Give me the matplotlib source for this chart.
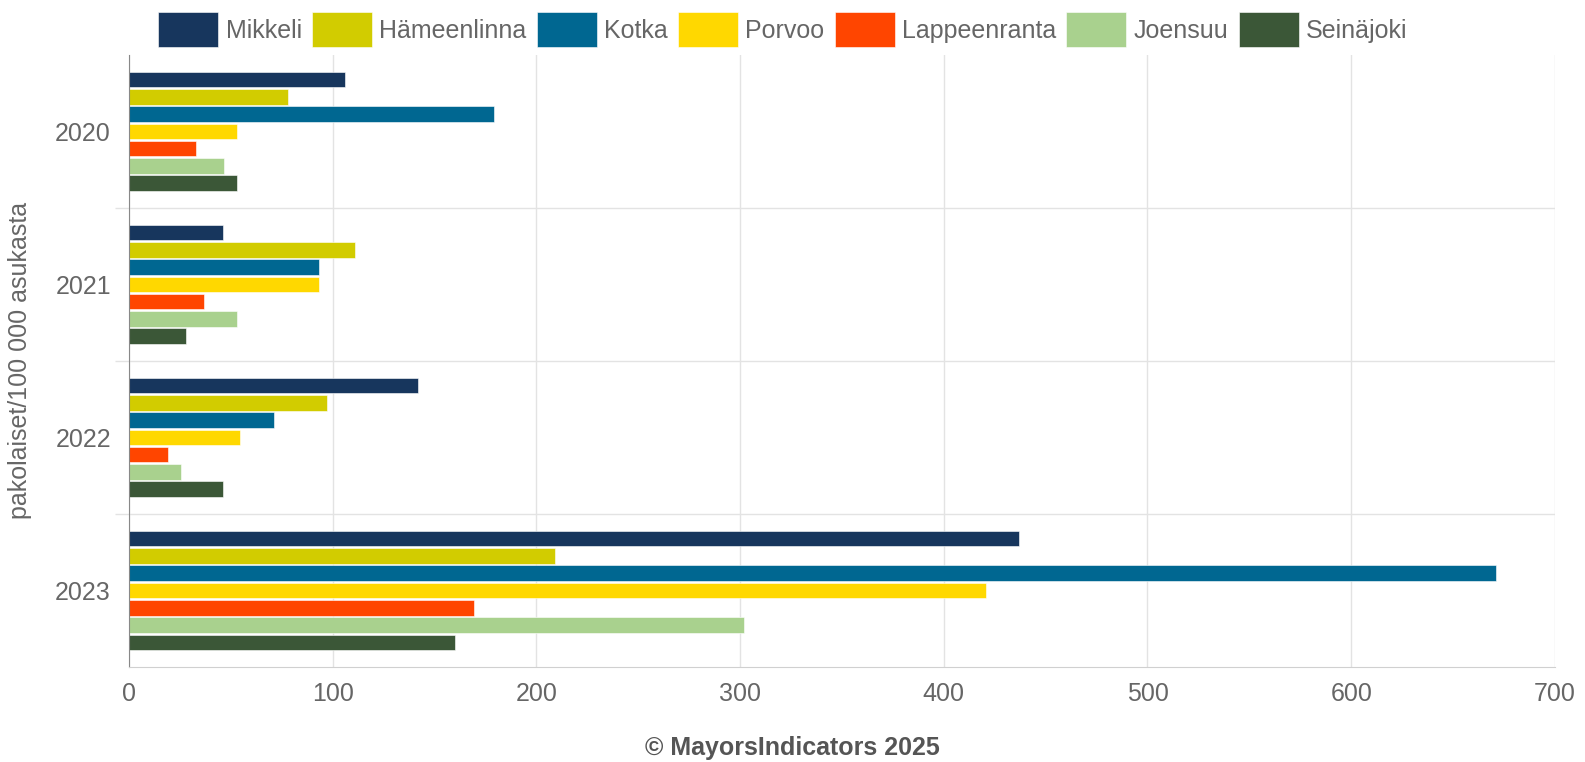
import numpy as np
import matplotlib.pyplot as plt

plt.rcParams['font.family'] = ['Liberation Sans', 'DejaVu Sans']

years = ['2020', '2021', '2022', '2023']
cities = ['Mikkeli', 'Hämeenlinna', 'Kotka', 'Porvoo', 'Lappeenranta', 'Joensuu', 'Seinäjoki']
colors = ['#17365d', '#d2cc00', '#006791', '#ffd800', '#ff4500', '#a9d18e', '#3b5737']

mikkeli = [106, 46, 142, 437]
hameenlinna = [78, 111, 97, 209]
kotka = [179, 93.5, 71, 671]
porvoo = [53, 93.5, 54.5, 420.5]
lappeenranta = [33, 37, 19, 169.5]
joensuu = [46.5, 53, 25.5, 302]
seinajoki = [53, 28, 46, 160]
values = [mikkeli, hameenlinna, kotka, porvoo, lappeenranta, joensuu, seinajoki]

fig = plt.figure(figsize=(15.85, 7.62), dpi=100)
ax = fig.add_axes([0.0814, 0.1247, 0.8996, 0.8033])

y = np.arange(len(years))
n = len(cities)
group = 0.79
pitch = group / n
for i, (city, vals, c) in enumerate(zip(cities, values, colors)):
    off = -group / 2 + pitch * (i + 0.5)
    ax.barh(y + off, vals, height=pitch * 0.9, color=c, label=city,
            edgecolor='white', linewidth=0.4)

ax.set_xlim(0, 700)
ax.set_ylim(len(years) - 0.5, -0.5)
ax.set_xticks(np.arange(0, 701, 100))
ax.set_yticks(y)
ax.set_yticklabels(years)
ax.set_yticks(np.arange(0.5, len(years) - 1, 1), minor=True)

ax.grid(axis='x', color='#e3e3e3', linewidth=1)
ax.grid(axis='y', which='minor', color='#e3e3e3', linewidth=1)
ax.set_axisbelow(True)

ax.tick_params(axis='x', length=0, pad=11, labelsize=18, labelcolor='#666666')
ax.tick_params(axis='y', which='major', length=0, pad=13, labelsize=18, labelcolor='#666666')
ax.tick_params(axis='y', which='minor', length=10, color='#e3e3e3', width=1)

for s in ['top', 'right']:
    ax.spines[s].set_visible(False)
ax.spines['left'].set_color('#888888')
ax.spines['bottom'].set_color('#d0d0d0')

ax.set_ylabel('pakolaiset/100 000 asukasta', fontsize=18, color='#666666', labelpad=17)

fig.legend(loc='center', bbox_to_anchor=(0.494, 0.961), ncol=7, frameon=False,
           fontsize=18, labelcolor='#666666', handlelength=2.4, handleheight=1.8,
           handletextpad=0.3, columnspacing=0.4)

fig.text(0.5, 0.018, '© MayorsIndicators 2025', ha='center', va='center',
         fontsize=18, fontweight='bold', color='#555555')

fig.savefig('out.png', dpi=100)
